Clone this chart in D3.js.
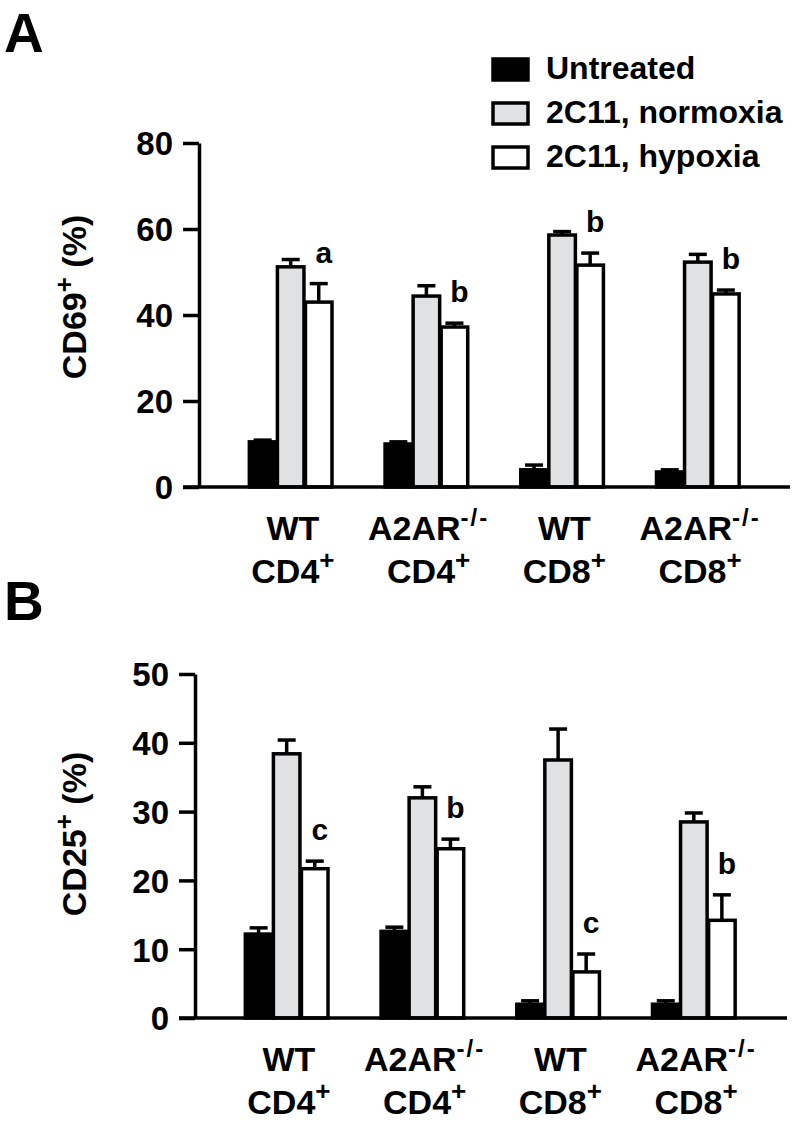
<!DOCTYPE html>
<html>
<head>
<meta charset="utf-8">
<script src="https://cdn.jsdelivr.net/npm/d3@7"></script>
<style>
  body { margin: 0; background: #fff; }
  text { font-family: "Liberation Sans", Arial, Helvetica, sans-serif; font-weight: bold; fill: #000; }
</style>
</head>
<body>
<div id="canvas"></div>
<script>
// categories
const groups = ["WT CD4", "A2AR CD4", "WT CD8", "A2AR CD8"];
const groupTop = ["WT", "A2AR", "WT", "A2AR"];
const groupTopSup = ["", "-/-", "", "-/-"];
const groupBottom = ["CD4", "CD4", "CD8", "CD8"];
const series = ["Untreated", "2C11, normoxia", "2C11, hypoxia"];
const seriesFill = ["#000", "#e0e1e3", "#fff"];

// panel A: CD69+ (%)
const cd69Untreated = [10.5, 10.0, 4.0, 3.5];
const cd69UntreatedErr = [0.4, 0.5, 1.1, 0.5];
const cd69Normoxia = [51.2, 44.4, 58.6, 52.3];
const cd69NormoxiaErr = [1.7, 2.4, 0.8, 1.8];
const cd69Hypoxia = [43.0, 37.2, 51.6, 44.9];
const cd69HypoxiaErr = [4.3, 0.9, 2.8, 0.9];
const cd69Letters = ["a", "b", "b", "b"];
const cd69Ticks = [0, 20, 40, 60, 80];

// panel B: CD25+ (%)
const cd25Untreated = [12.2, 12.6, 2.0, 2.0];
const cd25UntreatedErr = [0.9, 0.6, 0.5, 0.5];
const cd25Normoxia = [38.4, 32.0, 37.5, 28.5];
const cd25NormoxiaErr = [2.0, 1.6, 4.5, 1.3];
const cd25Hypoxia = [21.7, 24.6, 6.7, 14.2];
const cd25HypoxiaErr = [1.1, 1.4, 2.6, 3.7];
const cd25Letters = ["c", "b", "c", "b"];
const cd25Ticks = [0, 10, 20, 30, 40, 50];

const svg = d3.select("#canvas").append("svg")
  .attr("width", 800)
  .attr("height", 1123);

function drawPanel(p) {
  const g = svg.append("g");

  const y = d3.scaleLinear().domain([0, p.max]).range([p.bottom, p.top]);
  const x = d3.scaleBand()
    .domain(groups)
    .range([p.left, p.left + 589])
    .paddingInner(0.38)
    .paddingOuter(0.36);
  const xs = d3.scaleBand().domain(series).range([0, x.bandwidth()]);

  const rows = [];
  groups.forEach((gr, i) => {
    series.forEach((s, j) => {
      rows.push({ group: gr, series: s, idx: j, v: p.values[j][i], e: p.errors[j][i] });
    });
  });

  // bars
  g.selectAll("rect.bar")
    .data(rows)
    .enter()
    .append("rect")
    .attr("class", "bar")
    .attr("x", d => x(d.group) + xs(d.series) + 1.5)
    .attr("y", d => y(d.v))
    .attr("width", xs.bandwidth() - 1.5)
    .attr("height", d => y(0) - y(d.v))
    .style("fill", d => seriesFill[d.idx])
    .style("stroke", "#000")
    .style("stroke-width", 3.5);

  // error bars
  const cx = d => x(d.group) + xs(d.series) + xs.bandwidth() / 2 + 0.75;
  g.selectAll("line.err")
    .data(rows)
    .enter()
    .append("line")
    .attr("x1", cx).attr("x2", cx)
    .attr("y1", d => y(d.v)).attr("y2", d => y(d.v + d.e))
    .style("stroke", "#000").style("stroke-width", 3.5);
  g.selectAll("line.cap")
    .data(rows)
    .enter()
    .append("line")
    .attr("x1", d => cx(d) - 9).attr("x2", d => cx(d) + 9)
    .attr("y1", d => y(d.v + d.e)).attr("y2", d => y(d.v + d.e))
    .style("stroke", "#000").style("stroke-width", 3.5);

  // significance letters
  g.selectAll("text.sig")
    .data(rows.filter(d => d.idx === 2))
    .enter()
    .append("text")
    .attr("x", d => cx(d) + 5)
    .attr("y", d => y(d.v + d.e) - 21)
    .attr("text-anchor", "middle")
    .style("font-size", "30px")
    .text((d, i) => p.letters[i]);

  // y axis
  const ax = g.append("g")
    .attr("transform", `translate(${p.left},0)`)
    .call(d3.axisLeft(y).tickValues(p.ticks).tickSize(16).tickSizeOuter(0).tickPadding(10));
  ax.select(".domain").style("stroke", "#000").style("stroke-width", 3.5);
  ax.selectAll(".tick line").style("stroke", "#000").style("stroke-width", 3.5);
  ax.selectAll(".tick text")
    .style("font-size", "33px")
    .style("font-family", '"Liberation Sans", Arial, sans-serif')
    .style("font-weight", "bold")
    .attr("dy", "0.36em");

  // baseline
  g.append("line")
    .attr("x1", p.left - 16).attr("x2", p.right)
    .attr("y1", y(0)).attr("y2", y(0))
    .style("stroke", "#000").style("stroke-width", 3.5);

  // category labels
  groups.forEach((gr, i) => {
    const c = x(gr) + x.bandwidth() / 2 + 3;
    const t1 = g.append("text")
      .attr("x", c).attr("y", y(0) + 53)
      .attr("text-anchor", "middle")
      .style("font-size", "34px");
    t1.append("tspan").text(groupTop[i]);
    if (groupTopSup[i]) {
      t1.append("tspan").attr("dy", -14).style("font-size", "24px").style("letter-spacing", "2px").text(groupTopSup[i]);
    }
    const t2 = g.append("text")
      .attr("x", c).attr("y", y(0) + 96)
      .attr("text-anchor", "middle")
      .style("font-size", "34px");
    t2.append("tspan").text(groupBottom[i]);
    t2.append("tspan").attr("dy", -14).style("font-size", "26px").text("+");
  });

  // y title
  const yt = g.append("text")
    .attr("transform", `translate(86,${p.titleY}) rotate(-90)`)
    .attr("text-anchor", "middle")
    .style("font-size", "34px");
  yt.append("tspan").text(p.title);
  yt.append("tspan").attr("dy", -13).style("font-size", "26px").text("+");
  yt.append("tspan").attr("dy", 13).text(" (%)");

  // panel letter
  svg.append("text")
    .attr("x", 4).attr("y", p.labelY)
    .style("font-size", "55px")
    .text(p.label);
}

drawPanel({
  label: "A", labelY: 52, title: "CD69", titleY: 297,
  left: 199, right: 790, top: 143, bottom: 487, max: 80,
  ticks: cd69Ticks,
  values: [cd69Untreated, cd69Normoxia, cd69Hypoxia],
  errors: [cd69UntreatedErr, cd69NormoxiaErr, cd69HypoxiaErr],
  letters: cd69Letters
});

drawPanel({
  label: "B", labelY: 620, title: "CD25", titleY: 834,
  left: 195, right: 787, top: 674, bottom: 1018, max: 50,
  ticks: cd25Ticks,
  values: [cd25Untreated, cd25Normoxia, cd25Hypoxia],
  errors: [cd25UntreatedErr, cd25NormoxiaErr, cd25HypoxiaErr],
  letters: cd25Letters
});

// legend
const legend = svg.append("g").selectAll("g")
  .data(series)
  .enter()
  .append("g")
  .attr("transform", (d, i) => `translate(0,${79 + i * 44})`);
legend.append("rect")
  .attr("x", 493).attr("y", -20)
  .attr("width", 35).attr("height", 21)
  .style("fill", (d, i) => seriesFill[i])
  .style("stroke", "#000")
  .style("stroke-width", 3.5);
legend.append("text")
  .attr("x", 546).attr("y", 0)
  .style("font-size", "32px")
  .text(d => d);
</script>
</body>
</html>
